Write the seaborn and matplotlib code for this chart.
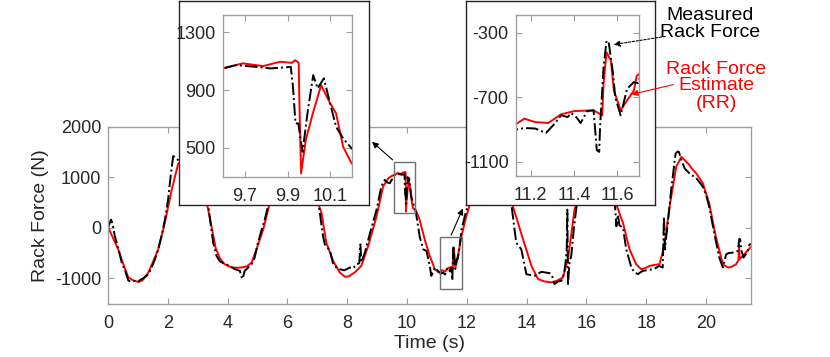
import matplotlib
matplotlib.use("Agg")
import matplotlib.pyplot as plt
import numpy as np
import seaborn as sns
from matplotlib.patches import Rectangle, FancyArrowPatch

# measured rack force (black dash-dot)
meas_t = [0.00, 0.05, 0.10, 0.15, 0.23, 0.35, 0.46, 0.58, 0.68, 0.75, 0.90, 1.00, 1.10, 1.20,
          1.30, 1.35, 1.45, 1.57, 1.68, 1.79, 1.90, 2.01, 2.10, 2.18, 2.24, 2.29,
          2.50, 2.80, 3.05, 3.25, 3.35, 3.45, 3.52, 3.63, 3.74, 3.91, 4.05, 4.24, 4.41,
          4.47, 4.50, 4.57, 4.70, 4.80, 4.90, 5.00, 5.14, 5.25, 5.36,
          5.60, 5.90, 6.20, 6.50, 6.80, 7.05, 7.19, 7.25, 7.42, 7.53, 7.65, 7.75, 7.90,
          8.09, 8.20, 8.31, 8.40, 8.44, 8.47, 8.59, 8.75, 8.98, 9.14, 9.25, 9.33, 9.42,
          9.50, 9.55, 9.596, 9.66, 9.75, 9.82, 9.87, 9.915, 9.925, 9.937, 9.95, 9.97,
          9.995, 10.02, 10.04, 10.07, 10.095, 10.127, 10.16, 10.20, 10.26, 10.31,
          10.42, 10.54, 10.65, 10.76, 10.81, 10.93, 11.05, 11.13, 11.17, 11.22, 11.27,
          11.31, 11.34, 11.37, 11.386, 11.41, 11.43, 11.46, 11.49, 11.505, 11.516,
          11.52, 11.536, 11.55, 11.56, 11.58, 11.59, 11.615, 11.645, 11.676, 11.695,
          11.75, 11.82, 11.93, 12.04, 12.30, 12.60, 12.90, 13.20, 13.40, 13.49, 13.65,
          13.82, 13.99, 14.10, 14.27, 14.40, 14.49, 14.60, 14.77, 14.85, 14.93, 15.05,
          15.16, 15.25, 15.30, 15.34, 15.36, 15.38, 15.43, 15.49, 15.58, 15.66,
          15.90, 16.20, 16.50, 16.80, 16.95, 17.00, 17.05, 17.10, 17.22, 17.33, 17.50,
          17.60, 17.72, 17.80, 17.89, 18.00, 18.22, 18.30, 18.42, 18.55, 18.59, 18.62,
          18.72, 18.83, 18.98, 19.05, 19.09, 19.15, 19.28, 19.44, 19.55, 19.67, 19.78,
          19.89, 20.00, 20.10, 20.28, 20.44, 20.56, 20.67, 20.75, 20.89, 21.06, 21.11,
          21.14, 21.18, 21.25, 21.33, 21.40, 21.45, 21.50]
meas_f = [0, 80, 163, 90, -165, -420, -686, -860, -1040, -1060, -1050, -1070, -1020, -990,
          -940, -916, -800, -622, -425, -165, 150, 555, 1050, 1420, 1400, 1372,
          1250, 1150, 1000, 750, 457, 0, -300, -557, -660, -720, -740, -818, -850,
          -980, -1010, -851, -780, -720, -600, -330, -33, 180, 457,
          900, 1200, 1250, 1150, 800, 440, -165, -327, -450, -720, -790, -818, -840,
          -784, -800, -720, -700, -327, -680, -490, -131, 359, 816, 947, 900, 882,
          960, 1012, 1050, 1073, 1061, 1050, 1055, 1061, 923, 669, 669, 472,
          761, 1004, 912, 981, 831, 646, 565, 496, 400, 250,
          -165, -425, -457, -753, -949, -784, -860, -902, -892, -895, -923,
          -865, -813, -824, -799, -824, -861, -787, -782, -1030, -1040,
          -885, -515, -350, -360, -555, -700, -813, -648, -607, -613,
          -400, -33, 228, 457, 1000, 1300, 1250, 1000, 700, 457, -294,
          -425, -916, -930, -949, -900, -870, -880, -896, -950, -1111, -1060,
          -1047, -900, -686, -400, 359, -1145, -700, -557, 0, 392,
          1000, 1300, 1200, 800, 460, 31, 261, 50, 0, -425, -784,
          -880, -916, -880, -851, -840, -818, -800, -753, -784, 228, -425,
          98, 751, 1470, 1510, 1502, 1380, 1176, 1078, 1030, 980, 900,
          816, 650, 424, -131, -588, -784, -523, -500, -490, -457, -216,
          -230, -450, -588, -520, -457, -327, -320]

# rack force estimate RR (red)
est_t = [0.00, 0.34, 0.50, 0.68, 0.85, 1.01, 1.15, 1.35, 1.50, 1.68, 1.90, 2.13, 2.35,
         2.60, 2.90, 3.20, 3.46, 3.60, 3.74, 3.90, 4.13, 4.30, 4.47, 4.65, 4.80, 4.95,
         5.19, 5.41, 5.70, 6.00, 6.30, 6.60, 6.90, 7.14, 7.30, 7.53, 7.75, 7.92, 8.05,
         8.25, 8.47, 8.70, 8.98, 9.20, 9.37, 9.50, 9.596, 9.69, 9.785, 9.865, 9.92,
         9.935, 9.952, 9.955, 9.963, 9.985, 10.018, 10.057, 10.095, 10.127, 10.16,
         10.20, 10.30, 10.42, 10.59, 10.76, 10.93, 11.05, 11.13, 11.17, 11.22, 11.28,
         11.31, 11.34, 11.40, 11.49, 11.53, 11.536, 11.55, 11.57, 11.584, 11.615,
         11.645, 11.676, 11.69, 11.70, 11.82, 11.98, 12.10, 12.40, 12.70, 13.00, 13.30,
         13.54, 13.88, 14.16, 14.38, 14.60, 14.82, 15.00, 15.21, 15.38, 15.60, 15.90,
         16.20, 16.50, 16.80, 17.00, 17.22, 17.44, 17.66, 17.83, 17.95, 18.11, 18.30,
         18.44, 18.60, 18.78, 19.00, 19.17, 19.30, 19.44, 19.55, 19.67, 19.89, 20.10,
         20.32, 20.56, 20.73, 20.85, 21.00, 21.08, 21.10, 21.12, 21.28, 21.47, 21.50]
est_f = [20, -425, -700, -980, -1040, -1070, -1040, -882, -680, -425, 98, 751, 1274,
         1350, 1200, 800, 31, -400, -600, -720, -784, -790, -784, -760, -686, -450,
         -33, 490, 1000, 1250, 1250, 1050, 700, 294, -294, -655, -882, -968, -960,
         -882, -753, -360, 228, 816, 980, 1030, 1050, 1085, 1066, 1096, 1089,
         1107, 1089, 831, 323, 553, 738, 935, 820, 738, 507,
         392, 340, 163, -229, -557, -818, -880, -869, -834, -855, -861,
         -834, -807, -787, -782, -813, -617, -422, -473, -659, -782,
         -720, -659, -566, -560, -165, 228, 457, 1000, 1280, 1200, 900,
         424, -229, -753, -1013, -1060, -1078, -1050, -980, -622, 359, 1000,
         1280, 1200, 800, 457, 98, -425, -720, -818, -800, -753, -730,
         -720, -360, 424, 1208, 1404, 1330, 1241, 1150, 1078, 882, 490,
         -165, -720, -784, -770, -720, -640, -330, -620, -523, -392, -380]

main_xticks = [0, 2, 4, 6, 8, 10, 12, 14, 16, 18, 20]
main_yticks = [-1000, 0, 1000, 2000]
zoom1_xticks = [9.7, 9.9, 10.1]
zoom1_yticks = [500, 900, 1300]
zoom2_xticks = [11.2, 11.4, 11.6]
zoom2_yticks = [-1100, -700, -300]

sns.set_theme(style="white")
plt.rcParams["font.family"] = ["Liberation Sans", "DejaVu Sans"]
plt.rcParams["axes.unicode_minus"] = False

SPINE = "#a0a0a0"
TXT = "#262626"

fig = plt.figure(figsize=(8.3, 3.57), dpi=100)


def style_axes(ax, fs):
    for s in ax.spines.values():
        s.set_color(SPINE)
        s.set_linewidth(1.0)
    ax.tick_params(direction="in", length=4, width=0.8, color=SPINE, labelcolor=TXT,
                   labelsize=fs, top=True, right=True, bottom=True, left=True)
    ax.tick_params(axis="x", pad=8)
    ax.tick_params(axis="y", pad=5)
    ax.set_xlabel("")
    ax.set_ylabel("")


def draw_lines(ax):
    sns.lineplot(x=est_t, y=est_f, ax=ax, color="#ff0000", lw=1.4, sort=False,
                 estimator=None, legend=False)
    sns.lineplot(x=meas_t, y=meas_f, ax=ax, color="black", lw=1.4, linestyle="-.",
                 sort=False, estimator=None, legend=False)


# main axes
ax = fig.add_axes([0.1301, 0.1493, 0.7747, 0.4958])
draw_lines(ax)
ax.set_xlim(0, 21.5)
ax.set_ylim(-1500, 2000)
ax.set_xticks(main_xticks)
ax.set_yticks(main_yticks)
style_axes(ax, 13)
ax.set_xlabel("Time (s)", fontsize=14, color=TXT, labelpad=2)
ax.set_ylabel("Rack Force (N)", fontsize=14, color=TXT, labelpad=4)
ax.add_patch(Rectangle((9.57, 294), 0.69, 1012, fill=False, ec="#707070", lw=1.0, zorder=5))
ax.add_patch(Rectangle((11.11, -1210), 0.72, 1026, fill=False, ec="#707070", lw=1.0, zorder=5))

# inset frames and inset axes
insets = [
    ([0.2157, 0.4258, 0.2289, 0.5714], [0.2683, 0.5050, 0.1554, 0.4530],
     (9.596, 10.2), (300, 1420), zoom1_xticks, zoom1_yticks),
    ([0.5614, 0.4258, 0.2278, 0.5714], [0.6213, 0.5070, 0.1486, 0.4510],
     (11.13, 11.7), (-1190, -190), zoom2_xticks, zoom2_yticks),
]
for box_rect, in_rect, xl, yl, xt, yt in insets:
    box = fig.add_axes(box_rect)
    box.set_xticks([])
    box.set_yticks([])
    box.set_facecolor("white")
    for s in box.spines.values():
        s.set_color(TXT)
        s.set_linewidth(1.0)
    iax = fig.add_axes(in_rect)
    draw_lines(iax)
    iax.set_xlim(*xl)
    iax.set_ylim(*yl)
    iax.set_xticks(xt)
    iax.set_yticks(yt)
    style_axes(iax, 13)


def fig_arrow(p0, p1, color, ls="-"):
    W, H = 830.0, 357.0
    a = FancyArrowPatch((p0[0] / W, 1 - p0[1] / H), (p1[0] / W, 1 - p1[1] / H),
                        transform=fig.transFigure, arrowstyle="-|>", mutation_scale=9,
                        color=color, lw=0.8, linestyle=ls, zorder=10)
    fig.add_artist(a)


fig_arrow((394.7, 161.7), (370, 140), "black")
fig_arrow((450, 237.7), (464, 206), "black")
fig_arrow((668, 36), (611, 45), "black", ls=(0, (2, 1.5)))
fig_arrow((676, 84), (629, 95), "#ff0000")

fig.text(710 / 830, 1 - 24 / 357, "Measured\nRack Force", ha="center", va="center",
         fontsize=14, color="black", linespacing=1.05, zorder=10)
fig.text(716 / 830, 1 - 86 / 357, "Rack Force\nEstimate\n(RR)", ha="center", va="center",
         fontsize=14, color="#ff0000", linespacing=1.0, zorder=10)

fig.savefig("out.png", dpi=100)
